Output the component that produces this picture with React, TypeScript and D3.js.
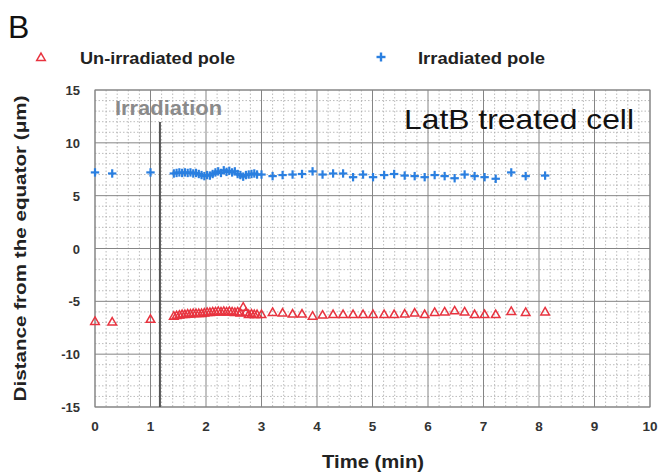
import React from "react";
import * as d3 from "d3";

// Sample times (min) shared by both poles
const times = [
  0, 0.31, 1.0,
  1.42, 1.47, 1.52, 1.57, 1.62, 1.67, 1.72, 1.77, 1.82, 1.87, 1.92, 1.97, 2.02, 2.07, 2.12, 2.17,
  2.22, 2.27, 2.32, 2.37, 2.42, 2.47, 2.52, 2.57, 2.62, 2.67, 2.72, 2.77, 2.82, 2.87, 2.92,
  3.0, 3.2, 3.38, 3.56, 3.73, 3.92, 4.1, 4.29, 4.47, 4.65, 4.83, 5.01, 5.21, 5.39, 5.58, 5.76,
  5.94, 6.12, 6.3, 6.48, 6.66, 6.84, 7.02, 7.22, 7.5, 7.76, 8.11,
];

// Irradiated pole distance from the equator (µm)
const irradiated = [
  7.2, 7.1, 7.2,
  7.1, 7.15, 7.2, 7.15, 7.2, 7.15, 7.2, 7.1, 7.15, 7.05, 6.95, 6.85, 6.95, 6.9, 7.05, 7.2,
  7.3, 7.15, 7.4, 7.25, 7.35, 7.2, 7.3, 7.05, 6.95, 6.8, 6.95, 7.0, 7.05, 7.1, 7.0,
  7.0, 6.85, 6.95, 7.0, 7.05, 7.3, 7.0, 7.1, 7.1, 6.75, 7.0, 6.75, 6.95, 7.05, 6.9, 6.85,
  6.75, 6.95, 6.85, 6.65, 7.0, 6.85, 6.75, 6.6, 7.2, 6.85, 6.9,
];

// Un-irradiated pole distance from the equator (µm)
const unIrradiated = [
  -6.95, -7.0, -6.75,
  -6.45, -6.4, -6.35, -6.3, -6.3, -6.25, -6.25, -6.2, -6.2, -6.2, -6.2, -6.15, -6.1, -6.1, -6.05, -6.05,
  -6.0, -6.05, -6.0, -6.05, -6.0, -6.05, -6.1, -6.05, -6.15, -5.6, -6.1, -6.3, -6.25, -6.3, -6.3,
  -6.3, -6.1, -6.15, -6.25, -6.25, -6.45, -6.35, -6.3, -6.3, -6.3, -6.3, -6.3, -6.3, -6.3, -6.25, -6.15,
  -6.3, -6.1, -6.05, -5.95, -6.05, -6.3, -6.3, -6.3, -6.0, -6.1, -6.05,
];

const xTicks = [0, 1, 2, 3, 4, 5, 6, 7, 8, 9, 10];
const yTicks = [15, 10, 5, 0, -5, -10, -15];
const irradiationTime = 1.17;

const W = 661;
const H = 475;
const FONT = "'Liberation Sans', Arial, sans-serif";
const RED = "#e8333f";
const BLUE = "#2a7fe0";

export default function App() {
  const left = 95;
  const right = 650;
  const top = 90;
  const bottom = 407;

  const x = d3.scaleLinear().domain([0, 10]).range([left, right]);
  const y = d3.scaleLinear().domain([-15, 15]).range([bottom, top]);

  const minorX = d3.range(0, 10.001, 0.2).filter((v) => Math.abs(v - Math.round(v)) > 1e-6);
  const minorY = d3.range(-15, 15.001, 1).filter((v) => v % 5 !== 0);

  const tri = d3.symbol().type(d3.symbolTriangle).size(32)();

  return (
    <svg width={W} height={H} style={{ position: "absolute", left: 0, top: 0, background: "#fff" }}>
      <rect x={0} y={0} width={W} height={H} fill="#fff" />
      <text x={8} y={38} fontFamily={FONT} fontSize={32} fill="#111">B</text>

      {/* legend */}
      <path d={tri} transform="translate(41,58)" fill="#fff" stroke={RED} strokeWidth={1.5} />
      <text x={80} y={64} fontFamily={FONT} fontSize={17} fontWeight="bold" fill="#222" textLength={155} lengthAdjust="spacingAndGlyphs">Un-irradiated pole</text>
      <g transform="translate(381,57)" stroke={BLUE} strokeWidth={2.4}>
        <line x1={-4.5} x2={4.5} y1={0} y2={0} />
        <line x1={0} x2={0} y1={-4.5} y2={4.5} />
      </g>
      <text x={418} y={64} fontFamily={FONT} fontSize={17} fontWeight="bold" fill="#222" textLength={127} lengthAdjust="spacingAndGlyphs">Irradiated pole</text>

      {/* minor grid */}
      {minorX.map((v) => (
        <line key={"mx" + v} x1={x(v)} x2={x(v)} y1={top} y2={bottom} stroke="#a9a9a9" strokeWidth={0.8} strokeDasharray="1.5,2" />
      ))}
      {minorY.map((v) => (
        <line key={"my" + v} x1={left} x2={right} y1={y(v)} y2={y(v)} stroke="#a9a9a9" strokeWidth={0.8} strokeDasharray="1.5,2" />
      ))}
      {/* major grid */}
      {xTicks.map((v) => (
        <line key={"gx" + v} x1={x(v)} x2={x(v)} y1={top} y2={bottom} stroke="#858585" strokeWidth={1} />
      ))}
      {yTicks.map((v) => (
        <line key={"gy" + v} x1={left} x2={right} y1={y(v)} y2={y(v)} stroke="#858585" strokeWidth={1} />
      ))}
      <rect x={left} y={top} width={right - left} height={bottom - top} fill="none" stroke="#858585" strokeWidth={1} />

      {/* irradiation marker */}
      <line x1={x(irradiationTime)} x2={x(irradiationTime)} y1={122} y2={bottom} stroke="#555" strokeWidth={2} />
      <text x={115} y={115} fontFamily={FONT} fontSize={20} fontWeight="bold" fill="#8a8a8a" textLength={107} lengthAdjust="spacingAndGlyphs">Irradiation</text>

      <text x={404} y={129} fontFamily={FONT} fontSize={28} fill="#111" textLength={230} lengthAdjust="spacingAndGlyphs">LatB treated cell</text>

      {/* tick labels */}
      {yTicks.map((v) => (
        <text key={"ty" + v} x={80} y={y(v) + 5} textAnchor="end" fontFamily={FONT} fontSize={13} fontWeight="bold" fill="#333">{v}</text>
      ))}
      {xTicks.map((v) => (
        <text key={"tx" + v} x={x(v)} y={431} textAnchor="middle" fontFamily={FONT} fontSize={13.5} fontWeight="bold" fill="#333">{v}</text>
      ))}

      {/* data: un-irradiated pole */}
      {times.map((t, i) => (
        <path key={"r" + i} d={tri} transform={`translate(${x(t)},${y(unIrradiated[i])})`} fill="#fff" fillOpacity={0} stroke={RED} strokeWidth={1.5} />
      ))}
      {/* data: irradiated pole */}
      {times.map((t, i) => (
        <g key={"b" + i} transform={`translate(${x(t)},${y(irradiated[i])})`} stroke={BLUE} strokeWidth={2.2}>
          <line x1={-4.2} x2={4.2} y1={0} y2={0} />
          <line x1={0} x2={0} y1={-4.2} y2={4.2} />
        </g>
      ))}

      {/* axis titles */}
      <text x={373} y={468} textAnchor="middle" fontFamily={FONT} fontSize={18} fontWeight="bold" fill="#222" textLength={102} lengthAdjust="spacingAndGlyphs">Time (min)</text>
      <text transform={`translate(26,${(top + bottom) / 2}) rotate(-90)`} textAnchor="middle" fontFamily={FONT} fontSize={16} fontWeight="bold" fill="#222" textLength={306} lengthAdjust="spacingAndGlyphs">Distance from the equator (μm)</text>
    </svg>
  );
}
